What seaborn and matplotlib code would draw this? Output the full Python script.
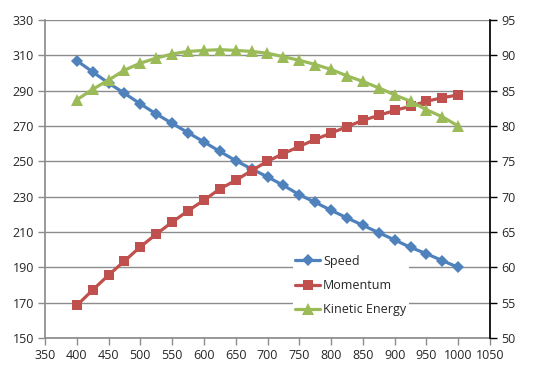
import seaborn as sns
import matplotlib.pyplot as plt
import pandas as pd
from matplotlib.lines import Line2D

mass = [400, 425, 450, 475, 500, 525, 550, 575, 600, 625, 650, 675, 700,
        725, 750, 775, 800, 825, 850, 875, 900, 925, 950, 975, 1000]
speed = [307, 300.6, 294.3, 288.5, 282.5, 276.8, 271.5, 266.2, 261, 255.6, 250.4, 245.7, 241.2,
         236.4, 231.1, 226.8, 222.3, 218, 213.8, 209.6, 205.5, 201.3, 197.7, 193.8, 190]
momentum = [54.6, 56.8, 58.9, 60.9, 62.9, 64.7, 66.4, 68.0, 69.5, 71.1, 72.3, 73.7, 75.0,
            76.1, 77.1, 78.1, 79.0, 79.9, 80.8, 81.5, 82.2, 82.8, 83.5, 84.0, 84.4]
kinetic = [83.7, 85.2, 86.5, 87.9, 88.9, 89.6, 90.2, 90.55, 90.7, 90.8, 90.7, 90.55, 90.3,
           89.8, 89.3, 88.7, 88.0, 87.1, 86.3, 85.4, 84.4, 83.5, 82.3, 81.3, 80.0]

left_ticks = list(range(150, 331, 20))
right_ticks = list(range(50, 96, 5))
x_ticks = list(range(350, 1051, 50))

df = pd.DataFrame({"Mass": mass, "Speed": speed, "Momentum": momentum, "Kinetic Energy": kinetic})

sns.set_theme(style="white")
plt.rcParams['font.family'] = ['Open Sans', 'DejaVu Sans']

blue = "#4F81BD"
red = "#C0504D"
green = "#9BBB59"
lw = 2.3

fig = plt.figure(figsize=(5.47, 3.82), dpi=100)
ax = fig.add_axes([45/547, 1 - 338/382, (490-45)/547, (338-20)/382])
ax2 = ax.twinx()

sns.lineplot(data=df, x="Mass", y="Speed", ax=ax, color=blue, lw=lw,
             marker="D", markersize=6.5, markeredgewidth=0)
sns.lineplot(data=df, x="Mass", y="Momentum", ax=ax2, color=red, lw=lw,
             marker="s", markersize=7.5, markeredgewidth=0)
sns.lineplot(data=df, x="Mass", y="Kinetic Energy", ax=ax2, color=green, lw=lw,
             marker="^", markersize=8.5, markeredgewidth=0)

ax.set_xlim(350, 1050)
ax.set_ylim(150, 330)
ax2.set_ylim(50, 95)
ax.set_xticks(x_ticks)
ax.set_yticks(left_ticks)
ax2.set_yticks(right_ticks)
ax.set_xlabel("")
ax.set_ylabel("")
ax2.set_ylabel("")

ax.yaxis.grid(True, color="#8c8c8c", lw=1)
ax.set_axisbelow(True)
ax2.grid(False)

ax.spines["top"].set_visible(False)
ax2.spines["top"].set_visible(False)
ax.spines["right"].set_visible(False)
ax.spines["left"].set_color("#8c8c8c")
ax.spines["bottom"].set_color("#8c8c8c")
ax2.spines["left"].set_visible(False)
ax2.spines["bottom"].set_visible(False)
ax2.spines["right"].set_color("black")

ax.tick_params(axis="both", which="major", direction="out", length=5, width=1,
               color="#8c8c8c", labelsize=9, bottom=True, left=True, pad=3)
ax2.tick_params(axis="y", direction="out", length=5, width=1, color="black",
                labelsize=9, right=True, pad=3)

handles = [
    Line2D([], [], color=blue, lw=lw, marker="D", markersize=6, markeredgewidth=0),
    Line2D([], [], color=red, lw=lw, marker="s", markersize=7, markeredgewidth=0),
    Line2D([], [], color=green, lw=lw, marker="^", markersize=8, markeredgewidth=0),
]
leg = ax2.legend(handles, ["Speed", "Momentum", "Kinetic Energy"],
                 loc="upper left", bbox_to_anchor=(248/445, (338-252)/318),
                 frameon=True, fontsize=9, handlelength=2.0, handletextpad=0.2,
                 labelspacing=0.92, borderaxespad=0, borderpad=0.2)
leg.get_frame().set_edgecolor("none")
leg.get_frame().set_facecolor("white")
leg.get_frame().set_alpha(1)

fig.savefig("out.png", dpi=100)
